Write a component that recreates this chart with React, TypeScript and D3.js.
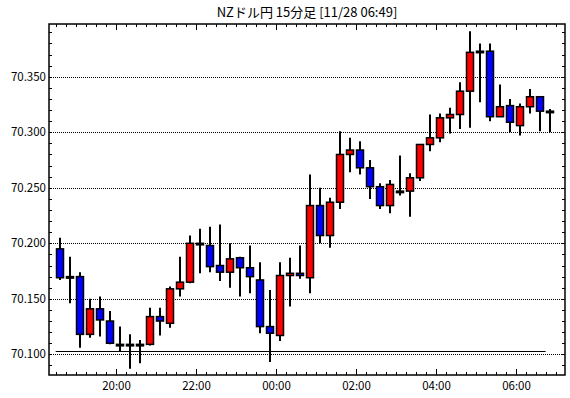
import * as d3 from "d3";

// 15分足 ローソク足 (始値, 高値, 安値, 終値)
const opens = [
  70.195, 70.17, 70.17, 70.118, 70.141, 70.13, 70.109, 70.109, 70.109, 70.109,
  70.134, 70.128, 70.159, 70.165, 70.2, 70.198, 70.18, 70.174, 70.187, 70.178,
  70.167, 70.125, 70.117, 70.171, 70.173, 70.169, 70.234, 70.207, 70.237, 70.28,
  70.284, 70.268, 70.251, 70.234, 70.247, 70.247, 70.259, 70.289, 70.295, 70.313,
  70.316, 70.337, 70.372, 70.373, 70.314, 70.324, 70.306, 70.323, 70.332, 70.319,
];
const highs = [
  70.205, 70.188, 70.174, 70.15, 70.152, 70.139, 70.125, 70.118, 70.113, 70.142,
  70.142, 70.161, 70.188, 70.207, 70.213, 70.215, 70.217, 70.2, 70.188, 70.198,
  70.183, 70.158, 70.183, 70.187, 70.198, 70.262, 70.25, 70.241, 70.301, 70.295,
  70.292, 70.275, 70.254, 70.257, 70.279, 70.263, 70.289, 70.316, 70.317, 70.322,
  70.345, 70.391, 70.38, 70.38, 70.343, 70.33, 70.326, 70.339, 70.332, 70.321,
];
const lows = [
  70.167, 70.146, 70.106, 70.115, 70.116, 70.109, 70.103, 70.087, 70.092, 70.108,
  70.117, 70.124, 70.152, 70.164, 70.173, 70.174, 70.166, 70.16, 70.152, 70.155,
  70.119, 70.093, 70.112, 70.143, 70.168, 70.155, 70.2, 70.196, 70.231, 70.264,
  70.262, 70.24, 70.231, 70.227, 70.243, 70.224, 70.256, 70.283, 70.291, 70.299,
  70.303, 70.304, 70.327, 70.31, 70.314, 70.3, 70.297, 70.317, 70.301, 70.3,
];
const closes = [
  70.169, 70.17, 70.118, 70.141, 70.131, 70.11, 70.109, 70.109, 70.109, 70.134,
  70.13, 70.159, 70.165, 70.2, 70.199, 70.179, 70.174, 70.186, 70.178, 70.17,
  70.125, 70.119, 70.171, 70.173, 70.171, 70.234, 70.207, 70.237, 70.28, 70.284,
  70.268, 70.251, 70.234, 70.253, 70.247, 70.259, 70.289, 70.295, 70.313, 70.316,
  70.337, 70.372, 70.373, 70.314, 70.323, 70.309, 70.323, 70.332, 70.319, 70.319,
];

const yTicks = [70.1, 70.15, 70.2, 70.25, 70.3, 70.35];
const supportLevel = 70.103;
const title = "NZドル円 15分足 [11/28 06:49]";

const startTime = new Date(Date.UTC(2023, 10, 27, 18, 30));
const times = d3.utcMinute.every(15)!.range(startTime, new Date(Date.UTC(2023, 10, 28, 7, 0)));

const W = 570;
const H = 398;
const left = 49, right = 565, top = 24, bottom = 375;
const FONT = "'Noto Sans CJK JP', 'DejaVu Sans', sans-serif";

export default function App() {
  const x = d3
    .scaleUtc()
    .domain([new Date(Date.UTC(2023, 10, 27, 18, 20)), new Date(Date.UTC(2023, 10, 28, 7, 14))])
    .range([left, right]);
  const y = d3.scaleLinear().domain([70.0814, 70.3975]).range([bottom, top]);

  const half = d3.utcMinute.offset(startTime, 7.5);
  const cx = (t: Date) => x(new Date(t.getTime() + (half.getTime() - startTime.getTime())));

  const minorX = d3.utcMinute.every(15)!.range(times[0], d3.utcMinute.offset(times[times.length - 1], 16));
  const minorY = d3.range(70.09, 70.395, 0.01);
  const fmt = d3.utcFormat("%H:%M");
  const bw = 7;

  return (
    <svg width={W} height={H} style={{ position: "absolute", left: 0, top: 0, background: "#fff" }}>
      <text x={(left + right) / 2} y={17} textAnchor="middle" fontFamily={FONT} fontSize={13} fill="#000">
        {title}
      </text>

      {yTicks.map((v) => (
        <g key={v}>
          <line x1={left} x2={right} y1={Math.round(y(v)) + 0.5} y2={Math.round(y(v)) + 0.5}
            stroke="#000" strokeDasharray="1,1" />
          <text x={46} y={y(v) + 4} textAnchor="end" fontFamily={FONT} fontSize={11.5} fill="#000">
            {v.toFixed(3)}
          </text>
        </g>
      ))}

      {minorY.map((v, i) => (
        <g key={"my" + i}>
          <line x1={left} x2={left + 3} y1={Math.round(y(v)) + 0.5} y2={Math.round(y(v)) + 0.5} stroke="#000" />
          <line x1={right - 3} x2={right} y1={Math.round(y(v)) + 0.5} y2={Math.round(y(v)) + 0.5} stroke="#000" />
        </g>
      ))}

      {minorX.map((t, i) => {
        const major = t.getUTCMinutes() === 0 && t.getUTCHours() % 2 === 0;
        const px = Math.round(x(t)) + 0.5;
        const len = major ? 6 : 3;
        return (
          <g key={"mx" + i}>
            <line x1={px} x2={px} y1={top} y2={top + len} stroke="#000" />
            <line x1={px} x2={px} y1={bottom - len} y2={bottom} stroke="#000" />
            {major && (
              <text x={px} y={390} textAnchor="middle" fontFamily={FONT} fontSize={11.5} fill="#000">
                {fmt(t)}
              </text>
            )}
          </g>
        );
      })}

      <line x1={x(times[0])} x2={x(times[times.length - 1])}
        y1={Math.round(y(supportLevel)) + 0.5} y2={Math.round(y(supportLevel)) + 0.5}
        stroke="#000" strokeWidth={1.2} />

      {times.map((t, i) => {
        const o = opens[i], c = closes[i];
        const px = Math.round(cx(t));
        const up = c >= o;
        const y1 = y(Math.max(o, c));
        const y2 = y(Math.min(o, c));
        const bh = Math.max(y2 - y1, 1.5);
        return (
          <g key={"c" + i}>
            <line x1={px} x2={px} y1={y(highs[i])} y2={y(lows[i])} stroke="#000" strokeWidth={2} />
            <rect x={px - bw / 2} y={y1} width={bw} height={bh}
              fill={Math.abs(o - c) < 0.0015 ? "#000" : up ? "#ff0000" : "#0000ff"}
              stroke="#000" strokeWidth={1.5} />
          </g>
        );
      })}

      <rect x={left} y={top} width={right - left} height={bottom - top} fill="none" stroke="#000" strokeWidth={1.5} />
    </svg>
  );
}
